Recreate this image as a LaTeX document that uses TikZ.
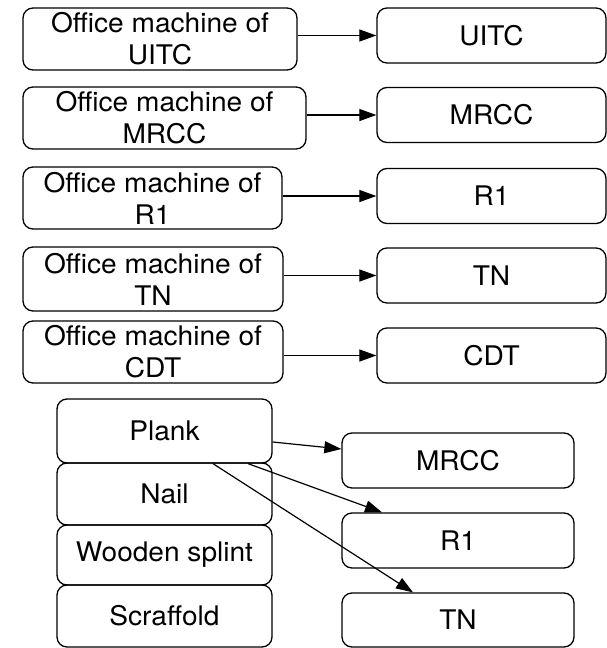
\documentclass[tikz,border=0pt]{standalone}
\usepackage{fontspec}
\setmainfont{TeX Gyre Heros}[FakeStretch=1.04]
\usetikzlibrary{arrows.meta}
\begin{document}
\begin{tikzpicture}[x=1pt,y=-1pt,
  box/.style={draw, line width=1.3pt, rounded corners=10pt, inner sep=0pt, align=center,
    font=\fontsize{27}{32}\selectfont},
  lbox/.style={box, minimum height=62pt},
  rbox/.style={box, minimum width=229pt, minimum height=55pt},
  sbox/.style={box, minimum width=215pt},
  tbox/.style={box, minimum width=232pt, minimum height=55pt},
  arr/.style={line width=1.2pt, -{Triangle[length=17pt,width=12pt]}}]
\useasboundingbox (0,0) rectangle (607,648);
% upper rows
\node[lbox, minimum width=274pt] (L1) at (160,39) {Office machine of\\UITC};
\node[lbox, minimum width=283pt] (L2) at (164.5,118) {Office machine of\\MRCC};
\node[lbox, minimum width=259pt] (L3) at (152.5,198) {Office machine of\\R1};
\node[lbox, minimum width=260pt, minimum height=64pt] (L4) at (153,279) {Office machine of\\TN};
\node[lbox, minimum width=260pt] (L5) at (153,352) {Office machine of\\CDT};
\node[rbox] (R1) at (491.5,35.5) {UITC};
\node[rbox] (R2) at (491.5,115) {MRCC};
\node[rbox] (R3) at (491.5,196) {R1};
\node[rbox] (R4) at (491.5,275.5) {TN};
\node[rbox] (R5) at (491.5,355.5) {CDT};
\draw[arr] (R1.west -| L1.east) -- (R1.west);
\draw[arr] (R2.west -| L2.east) -- (R2.west);
\draw[arr] (R3.west -| L3.east) -- (R3.west);
\draw[arr] (R4.west -| L4.east) -- (R4.west);
\draw[arr] (R5.west -| L5.east) -- (R5.west);
% lower part
\node[sbox, minimum height=64pt] (P) at (164.5,431) {Plank};
\node[sbox, minimum height=62pt] (N) at (164.5,494) {Nail};
\node[sbox, minimum height=60pt] (W) at (164.5,555) {Wooden splint};
\node[sbox, minimum height=62pt] (S) at (164.5,616) {Scraffold};
\node[tbox] (M2) at (458,460.5) {MRCC};
\node[tbox] (B1) at (458,540.5) {R1};
\node[tbox, minimum height=54pt] (T2) at (458,620) {TN};
\draw[arr] ([yshift=-11pt]P.east) -- ([yshift=11.5pt]M2.west);
\draw[arr] ([xshift=83.5pt]P.south) -- ([xshift=-76pt]B1.north);
\draw[arr] ([xshift=48.5pt]P.south) -- ([xshift=-45pt]T2.north);
\end{tikzpicture}
\end{document}
